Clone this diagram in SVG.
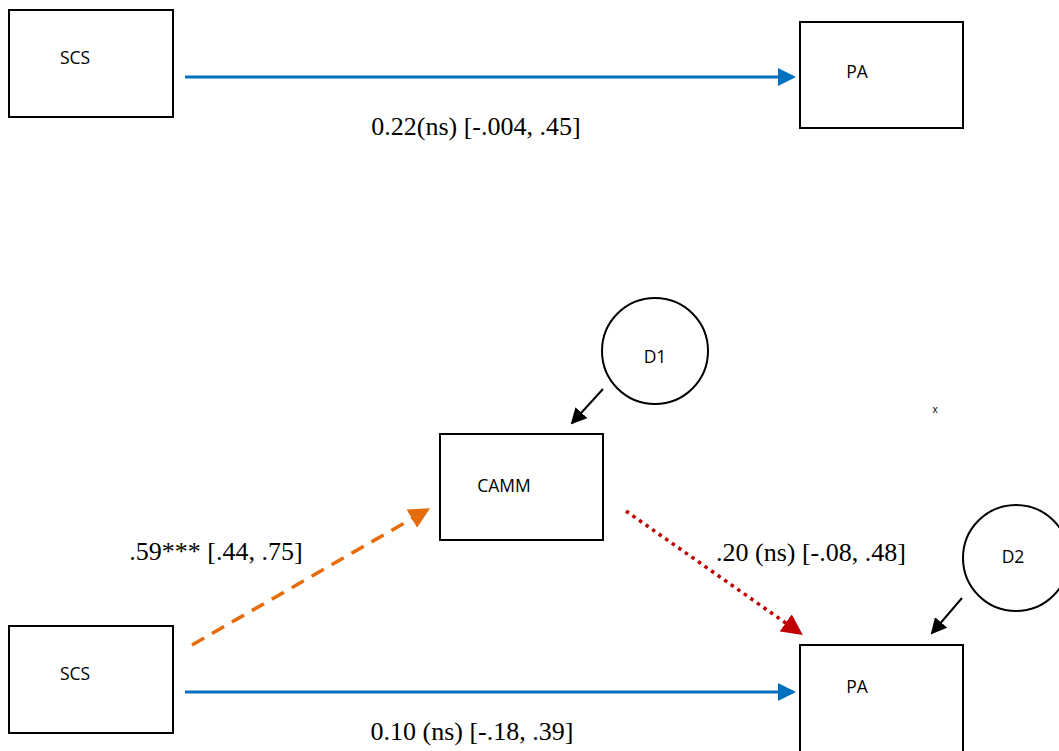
<svg xmlns="http://www.w3.org/2000/svg" width="1059" height="751" viewBox="0 0 1059 751">
<style>
.box{fill:#fff;stroke:#000;stroke-width:2}
.circ{fill:#fff;stroke:#000;stroke-width:2}
.nl{font-family:"Open Sans","Noto Sans",sans-serif;font-size:17.5px;fill:#000;text-anchor:middle}
.el{font-family:"Liberation Serif",serif;font-size:26px;fill:#000;text-anchor:middle}
.blue{stroke:#0070C0;stroke-width:3;fill:none}
.orange{stroke:#E46C0A;stroke-width:3.5;fill:none;stroke-dasharray:14 9}
.red{stroke:#C00000;stroke-width:3.5;fill:none;stroke-dasharray:3.5 4.5}
.blk{stroke:#000;stroke-width:2;fill:none}
</style>
<defs>
<marker id="mb" markerWidth="6" markerHeight="6" refX="5" refY="3" orient="auto" markerUnits="strokeWidth"><path d="M0,0 L6,3 L0,6 Z" fill="#0070C0"/></marker>
<marker id="mo" markerWidth="6" markerHeight="6" refX="5" refY="3" orient="auto" markerUnits="strokeWidth"><path d="M0,0 L6,3 L0,6 Z" fill="#E46C0A"/></marker>
<marker id="mr" markerWidth="6" markerHeight="6" refX="5" refY="3" orient="auto" markerUnits="strokeWidth"><path d="M0,0 L6,3 L0,6 Z" fill="#C00000"/></marker>
<marker id="mk" markerWidth="8" markerHeight="8" refX="7" refY="4" orient="auto" markerUnits="strokeWidth"><path d="M0,0 L8,4 L0,8 Z" fill="#000"/></marker>
</defs>
<rect width="1059" height="751" fill="#fff"/>
<g id="connectors">
<line class="blue" x1="185" y1="77" x2="793" y2="77" marker-end="url(#mb)"/>
<line class="blue" x1="185" y1="692" x2="793" y2="692" marker-end="url(#mb)"/>
<line class="orange" x1="192" y1="645" x2="427" y2="510" marker-end="url(#mo)"/>
<line class="red" x1="626" y1="511" x2="800" y2="633" marker-end="url(#mr)"/>
<line class="blk" x1="603" y1="389" x2="572" y2="423" marker-end="url(#mk)"/>
<line class="blk" x1="962" y1="598" x2="932" y2="633" marker-end="url(#mk)"/>
</g>
<g id="scs1"><rect class="box" x="9" y="10" width="164" height="107"/><text class="nl" x="75" y="64">SCS</text></g>
<g id="pa1"><rect class="box" x="800" y="22" width="163" height="106"/><text class="nl" x="857" y="78">PA</text></g>
<g id="d1"><circle class="circ" cx="655" cy="351" r="53"/><text class="nl" x="655" y="363">D1</text></g>
<g id="camm"><rect class="box" x="440" y="434" width="163" height="106"/><text class="nl" x="504" y="492">CAMM</text></g>
<g id="d2"><circle class="circ" cx="1016" cy="558" r="53"/><text class="nl" x="1013" y="563">D2</text></g>
<g id="scs2"><rect class="box" x="9" y="626" width="164" height="107"/><text class="nl" x="75" y="680">SCS</text></g>
<g id="pa2"><rect class="box" x="800" y="645" width="163" height="110"/><text class="nl" x="857" y="693">PA</text></g>
<g id="labels">
<text class="el" x="476" y="135">0.22(ns) [-.004, .45]</text>
<text class="el" x="216" y="560">.59*** [.44, .75]</text>
<text class="el" x="811" y="561">.20 (ns) [-.08, .48]</text>
<text class="el" x="472" y="740">0.10 (ns) [-.18, .39]</text>
<text x="935" y="413" style="font-family:'Open Sans',sans-serif;font-size:10px;text-anchor:middle">x</text>
</g>
</svg>
